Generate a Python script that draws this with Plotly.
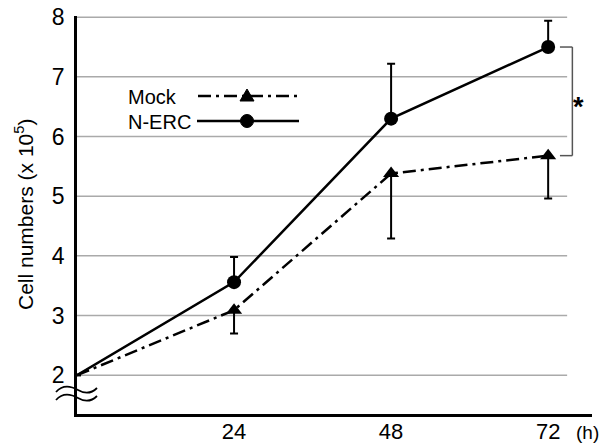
import plotly.graph_objects as go

# ---- data ----
hours = [0, 24, 48, 72]
mock = [2.0, 3.09, 5.38, 5.68]
mock_err_down = [0, 0.39, 1.09, 0.72]
nerc = [2.0, 3.56, 6.30, 7.50]
nerc_err_up = [0, 0.42, 0.92, 0.44]
x_ticks = [24, 48, 72]
x_tick_text = ["24", "48", "72"]
y_ticks = [2, 3, 4, 5, 6, 7, 8]

W, H = 604, 446
L, R, T, B = 77, 12, 16, 32
PW, PH = W - L - R, H - T - B
FONT = "Liberation Sans, Arial, Helvetica, sans-serif"


def px(x):
    return (x - L) / PW


def py(y):
    return (H - B - y) / PH


fig = go.Figure()

fig.add_trace(go.Scatter(
    x=hours, y=mock, mode="lines+markers", name="Mock",
    line=dict(color="black", width=2.5, dash="13px,5px,3px,5px"),
    marker=dict(symbol="triangle-up", size=[0, 14, 14, 14], color="black",
                opacity=1, line=dict(width=0)),
    error_y=dict(type="data", symmetric=False, array=[0, 0, 0, 0],
                 arrayminus=mock_err_down, color="black", thickness=2, width=4),
    cliponaxis=False, showlegend=False, hoverinfo="skip",
))
fig.add_trace(go.Scatter(
    x=hours, y=nerc, mode="lines+markers", name="N-ERC",
    line=dict(color="black", width=2.5),
    marker=dict(symbol="circle", size=[0, 14, 14, 14], color="black",
                opacity=1, line=dict(width=0)),
    error_y=dict(type="data", symmetric=False, array=nerc_err_up,
                 arrayminus=[0, 0, 0, 0], color="black", thickness=2, width=4),
    cliponaxis=False, showlegend=False, hoverinfo="skip",
))

shapes = []
# gridlines (stop short of the right edge)
for v in y_ticks:
    shapes.append(dict(type="line", xref="x", yref="y", x0=0, x1=74.9, y0=v, y1=v,
                       line=dict(color="#aaaaaa", width=1.5), layer="below"))

# significance bracket
bx0, bx1 = 73.8, 75.7
shapes += [
    dict(type="line", xref="x", yref="y", x0=bx1, x1=bx1, y0=mock[-1], y1=nerc[-1],
         line=dict(color="#555555", width=1.5)),
    dict(type="line", xref="x", yref="y", x0=bx0, x1=bx1, y0=nerc[-1], y1=nerc[-1],
         line=dict(color="#555555", width=1.5)),
    dict(type="line", xref="x", yref="y", x0=bx0, x1=bx1, y0=mock[-1], y1=mock[-1],
         line=dict(color="#555555", width=1.5)),
]


def ppath(pts):
    # pts: list of (cmd, [(x,y),...]) in pixels -> paper path
    s = ""
    for cmd, coords in pts:
        s += cmd + " " + " ".join(f"{px(a):.5f},{py(b):.5f}" for a, b in coords) + " "
    return s.strip()


# axis break squiggles
for yy in (390, 398):
    shapes.append(dict(type="path", xref="paper", yref="paper",
                       path=ppath([("M", [(56, yy + 2)]),
                                   ("C", [(63, yy - 6), (71, yy - 4), (78, yy)]),
                                   ("C", [(85, yy + 4), (91, yy + 4), (97, yy - 2)])]),
                       line=dict(color="black", width=1.8)))

# legend samples
shapes += [
    dict(type="line", xref="paper", yref="paper", x0=px(198), x1=px(297), y0=py(96), y1=py(96),
         line=dict(color="black", width=2.5, dash="13px,5px,3px,5px")),
    dict(type="path", xref="paper", yref="paper",
         path=ppath([("M", [(247, 89)]), ("L", [(254, 101)]), ("L", [(240, 101)])]) + " Z",
         fillcolor="black", opacity=1, line=dict(color="black", width=1)),
    dict(type="line", xref="paper", yref="paper", x0=px(197), x1=px(299), y0=py(121), y1=py(121),
         line=dict(color="black", width=2.5)),
    dict(type="circle", xref="paper", yref="paper", x0=px(240.5), x1=px(253.5),
         y0=py(114.5), y1=py(127.5), fillcolor="black", opacity=1,
         line=dict(color="black", width=1)),
]

annotations = [
    dict(text="Mock", xref="paper", yref="paper", x=px(126), y=py(97), xanchor="left",
         yanchor="middle", showarrow=False, font=dict(size=20, color="black", family=FONT)),
    dict(text="N-ERC", xref="paper", yref="paper", x=px(126), y=py(122), xanchor="left",
         yanchor="middle", showarrow=False, font=dict(size=20, color="black", family=FONT)),
    dict(text="<b>*</b>", xref="x", yref="y", x=76.6, y=(mock[-1] + nerc[-1]) / 2 - 0.1,
         showarrow=False, font=dict(size=27, color="black", family=FONT), xanchor="center"),
    dict(text="(h)", xref="paper", yref="paper", x=px(601), y=py(432), xanchor="right",
         yanchor="middle", showarrow=False, font=dict(size=19, color="black", family=FONT)),
    dict(text="Cell numbers (x 10<sup>5</sup>)", xref="paper", yref="paper", x=px(24), y=py(215),
         textangle=-90, xanchor="center", yanchor="middle", showarrow=False,
         font=dict(size=21, color="black", family=FONT)),
]

fig.update_layout(
    template="none",
    width=W, height=H, margin=dict(l=L, r=R, t=T, b=B, pad=0),
    paper_bgcolor="white", plot_bgcolor="white",
    font=dict(family=FONT, color="black"),
    shapes=shapes, annotations=annotations, showlegend=False,
    xaxis=dict(range=[0, 78.7], showgrid=False, zeroline=False, showline=True,
               automargin=False,
               linecolor="black", linewidth=2.5, tickvals=x_ticks, ticktext=x_tick_text,
               ticks="", ticklabelstandoff=-4,
               tickfont=dict(size=22, color="black", family=FONT)),
    yaxis=dict(range=[1.35, 8.02], showgrid=False, zeroline=False, showline=True,
               automargin=False,
               linecolor="black", linewidth=2.5, tickvals=y_ticks, ticks="",
               ticklabelstandoff=5,
               tickfont=dict(size=23, color="black", family=FONT)),
)

fig.write_html("out.html", post_script="document.body.style.margin='0';",
               config={"displayModeBar": False})
